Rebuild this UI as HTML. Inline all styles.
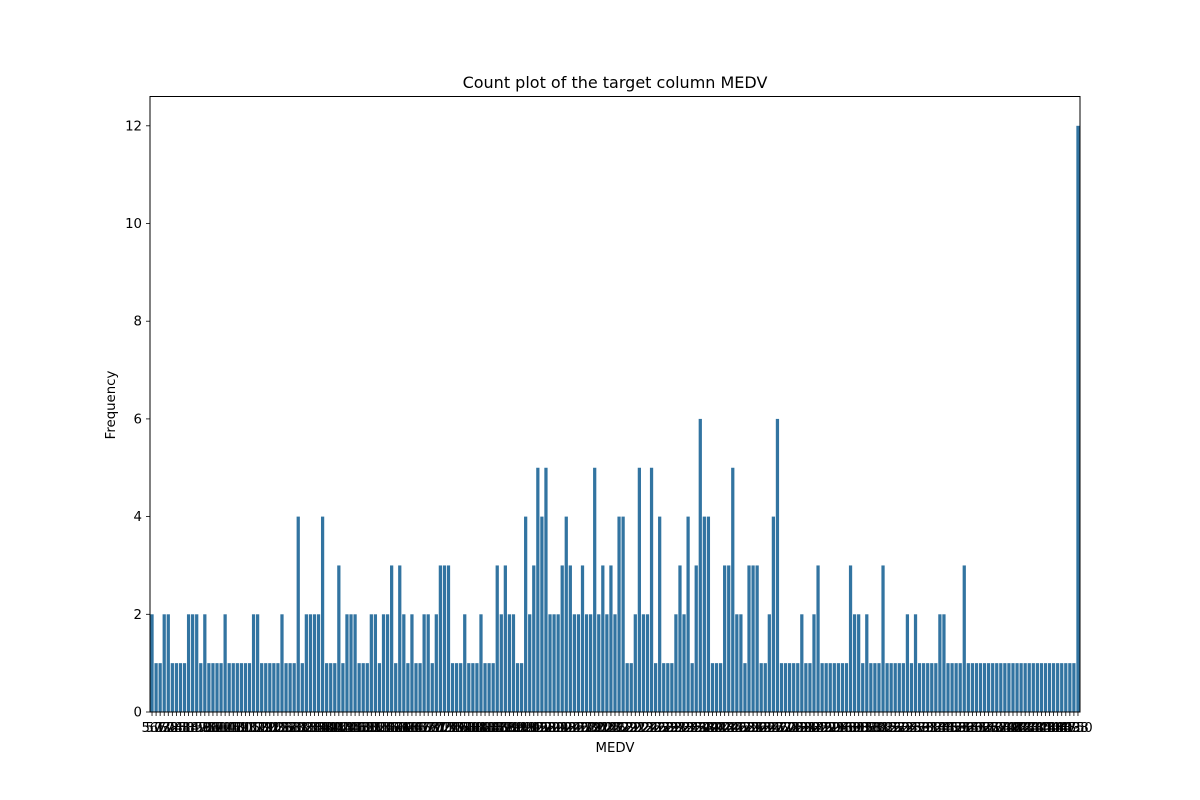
<!DOCTYPE html>
<html><head><meta charset="utf-8"><style>
body{margin:0;background:#fff;}
svg{display:block;font-family:"DejaVu Sans","Liberation Sans",sans-serif;}
</style></head><body>
<svg id="chart" width="1200" height="800" xmlns="http://www.w3.org/2000/svg">
<rect width="1200" height="800" fill="#fff"/>
<text x="615" y="88" text-anchor="middle" font-size="16">Count plot of the target column MEDV</text>
<text x="615" y="752" text-anchor="middle" font-size="13.3">MEDV</text>
<text transform="translate(115,405) rotate(-90)" text-anchor="middle" font-size="13.3">Frequency</text>
<g id="bars"></g>
<g id="xticks"></g>
<g id="yticks"></g>
<rect x="150" y="96.5" width="930" height="615.5" fill="none" stroke="#000" stroke-width="1"/>
</svg>
<script>
const categories = [5.0,5.6,6.3,7.0,7.2,7.4,7.5,8.1,8.3,8.4,8.5,8.7,8.8,9.5,9.6,9.7,10.2,10.4,10.5,10.8,10.9,11.0,11.3,11.5,11.7,11.8,11.9,12.0,12.1,12.3,12.5,12.6,12.7,12.8,13.0,13.1,13.2,13.3,13.4,13.5,13.6,13.8,13.9,14.0,14.1,14.2,14.3,14.4,14.5,14.6,14.8,14.9,15.0,15.1,15.2,15.3,15.4,15.6,15.7,16.0,16.1,16.2,16.3,16.4,16.5,16.6,16.7,16.8,17.0,17.1,17.2,17.3,17.4,17.5,17.6,17.7,17.8,17.9,18.0,18.1,18.2,18.3,18.4,18.5,18.6,18.7,18.8,18.9,19.0,19.1,19.2,19.3,19.4,19.5,19.6,19.7,19.8,19.9,20.0,20.1,20.2,20.3,20.4,20.5,20.6,20.7,20.8,20.9,21.0,21.1,21.2,21.4,21.5,21.6,21.7,21.8,21.9,22.0,22.1,22.2,22.3,22.4,22.5,22.6,22.7,22.8,22.9,23.0,23.1,23.2,23.3,23.4,23.5,23.6,23.7,23.8,23.9,24.0,24.1,24.2,24.3,24.4,24.5,24.6,24.7,24.8,25.0,25.1,25.2,25.3,26.2,26.4,26.5,26.6,26.7,27.0,27.1,27.5,27.9,28.0,28.1,28.2,28.4,28.5,28.6,28.7,29.0,29.1,29.4,29.6,29.8,29.9,30.1,30.3,30.5,30.7,30.8,31.0,31.1,31.2,31.5,31.6,31.7,32.0,32.2,32.4,32.5,32.7,32.9,33.0,33.1,33.2,33.3,33.4,33.8,34.6,34.7,34.9,35.1,35.2,35.4,36.0,36.1,36.2,36.4,36.5,37.0,37.2,37.3,37.6,37.9,38.7,39.8,41.3,41.7,42.3,42.8,43.1,43.5,43.8,44.0,44.8,45.4,46.0,46.7,48.3,48.5,48.8,49.0,50.0];
const counts = [
2,1,1,2,2,1,1,1,1,2, 2,2,1,2,1,1,1,1,2,1, 1,1,1,1,1,2,2,1,1,1, 1,1,2,1,1,1,4,1,2,2,
2,2,4,1,1,1,3,1,2,2, 2,1,1,1,2,2,1,2,2,3, 1,3,2,1,2,1,1,2,2,1, 2,3,3,3,1,1,1,2,1,1,
1,2,1,1,1,3,2,3,2,2, 1,1,4,2,3,5,4,5,2,2, 2,3,4,3,2,2,3,2,2,5, 2,3,2,3,2,4,4,1,1,2,
5,2,2,5,1,4,1,1,1,2, 3,2,4,1,3,6,4,4,1,1, 1,3,3,5,2,2,1,3,3,3, 1,1,2,4,6,1,1,1,1,1,
2,1,1,2,3,1,1,1,1,1, 1,1,3,2,2,1,2,1,1,1, 3,1,1,1,1,1,2,1,2,1, 1,1,1,1,2,2,1,1,1,1,
3,1,1,1,1,1,1,1,1,1, 1,1,1,1,1,1,1,1,1,1, 1,1,1,1,1,1,1,1,12];
const yTicks = [0,2,4,6,8,10,12];

const NS="http://www.w3.org/2000/svg";
const X0=150,X1=1080,Y0=712,Yt=96.5,YMAX=12.6;
const n=counts.length, step=(X1-X0)/n;
const xScale=i=>X0+step*(i+0.5);
const yScale=v=>Y0-(v/YMAX)*(Y0-Yt);
const bars=document.getElementById('bars'),xt=document.getElementById('xticks'),yt=document.getElementById('yticks');
counts.forEach((c,i)=>{
  const r=document.createElementNS(NS,'rect');
  
  
  const w=step*0.8;
  r.setAttribute('x',xScale(i)-w/2);r.setAttribute('width',w);
  r.setAttribute('y',yScale(c));r.setAttribute('height',Y0-yScale(c));
  r.setAttribute('fill','#3274a1');
  bars.appendChild(r);
  const t=document.createElementNS(NS,'line');
  
  
  t.setAttribute('x1',xScale(i));t.setAttribute('x2',xScale(i));t.setAttribute('y1',Y0);t.setAttribute('y2',Y0+4);
  t.setAttribute('stroke','#000');t.setAttribute('stroke-width','0.8');
  xt.appendChild(t);
  const l=document.createElementNS(NS,'text');
  
  
  l.setAttribute('x',xScale(i));l.setAttribute('y',Y0+20);l.setAttribute('text-anchor','middle');l.setAttribute('font-size','13.3');
  const v=categories[i%categories.length];
  l.textContent=Number(v).toFixed(1);
  xt.appendChild(l);
});
yTicks.forEach(v=>{
  const t=document.createElementNS(NS,'line');
  
  
  t.setAttribute('x1',X0-4);t.setAttribute('x2',X0);t.setAttribute('y1',yScale(v));t.setAttribute('y2',yScale(v));
  t.setAttribute('stroke','#000');t.setAttribute('stroke-width','0.8');
  yt.appendChild(t);
  const l=document.createElementNS(NS,'text');
  
  
  l.setAttribute('x',X0-8);l.setAttribute('y',yScale(v)+4.5);l.setAttribute('text-anchor','end');l.setAttribute('font-size','13.3');
  l.textContent=v;
  yt.appendChild(l);
});
</script>
</body></html>
